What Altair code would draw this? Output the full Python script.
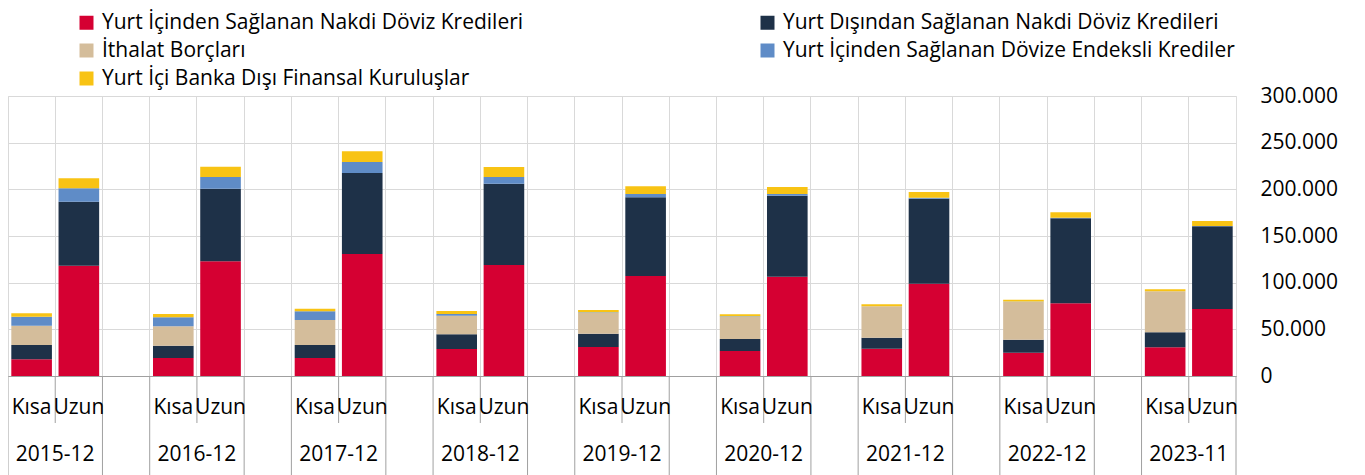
import altair as alt
import pandas as pd

periods = ["2015-12", "2016-12", "2017-12", "2018-12", "2019-12",
           "2020-12", "2021-12", "2022-12", "2023-11"]
terms = ["Kısa", "Uzun"]

series = [
    "Yurt İçinden Sağlanan Nakdi Döviz Kredileri",
    "Yurt Dışından Sağlanan Nakdi Döviz Kredileri",
    "İthalat Borçları",
    "Yurt İçinden Sağlanan Dövize Endeksli Krediler",
    "Yurt İçi Banka Dışı Finansal Kuruluşlar",
]
colors = ["#d50032", "#1e3148", "#d4bd9b", "#5f8cc7", "#f8c314"]
# legend is filled column by column: column 1 = red, tan, yellow; column 2 = navy, blue
legend_order = [0, 2, 4, 1, 3]

# values (thousands, per period)
ic_nakdi_kisa = [17.9, 19.3, 19.3, 28.9, 31.1, 26.8, 29.3, 25.0, 30.7]
ic_nakdi_uzun = [118.2, 122.9, 130.7, 118.9, 107.1, 106.4, 98.9, 77.9, 71.8]
dis_nakdi_kisa = [15.3, 13.2, 13.9, 15.7, 14.3, 12.8, 11.8, 13.9, 16.1]
dis_nakdi_uzun = [68.6, 77.8, 86.8, 87.2, 84.3, 86.8, 91.1, 91.1, 88.6]
ithalat_kisa = [20.7, 20.7, 26.8, 20.0, 22.5, 24.0, 33.5, 40.7, 43.9]
ithalat_uzun = [0, 0, 0, 0, 0, 0, 0, 0, 0]
endeksli_kisa = [9.7, 9.7, 9.3, 1.8, 0.5, 0.3, 0.2, 0.2, 0.2]
endeksli_uzun = [14.3, 12.5, 11.8, 7.1, 3.6, 1.8, 1.0, 0.5, 0.3]
bdfk_kisa = [3.5, 3.5, 2.8, 3.2, 2.3, 2.2, 2.0, 2.0, 2.0]
bdfk_uzun = [10.7, 11.1, 11.4, 10.7, 8.2, 7.5, 6.1, 5.9, 5.4]

y_ticks = [0, 50000, 100000, 150000, 200000, 250000, 300000]

values = {
    ("Kısa", 0): ic_nakdi_kisa, ("Uzun", 0): ic_nakdi_uzun,
    ("Kısa", 1): dis_nakdi_kisa, ("Uzun", 1): dis_nakdi_uzun,
    ("Kısa", 2): ithalat_kisa, ("Uzun", 2): ithalat_uzun,
    ("Kısa", 3): endeksli_kisa, ("Uzun", 3): endeksli_uzun,
    ("Kısa", 4): bdfk_kisa, ("Uzun", 4): bdfk_uzun,
}

# slot domain: Kısa, Uzun, gap for each period (no gap after the last)
slots = []
slot_kind = []
for i, p in enumerate(periods):
    slots += [f"{p} Kısa", f"{p} Uzun"]
    slot_kind += ["Kısa", "Uzun"]
    if i < len(periods) - 1:
        slots.append(f"{p} gap")
        slot_kind.append("")

rows = []
for i, p in enumerate(periods):
    for t in terms:
        for s_idx, s in enumerate(series):
            rows.append({"slot": f"{p} {t}", "series": s, "sidx": s_idx,
                         "value": values[(t, s_idx)][i] * 1000})
df = pd.DataFrame(rows)

terms_df = pd.DataFrame({"slot": slots, "term": slot_kind})
terms_df = terms_df[terms_df["term"] != ""]
years_df = pd.DataFrame({"slot": [f"{p} Uzun" for p in periods], "label": periods})
long_df = pd.DataFrame({"slot": [s for s, k in zip(slots, slot_kind) if k != "Uzun"]})
short_df = pd.DataFrame({"slot": [s for s, k in zip(slots, slot_kind) if k == "Uzun"]})
edge_df = pd.DataFrame({"slot": [slots[-1]]})

W, H = 1228, 280
FONT = "Open Sans"
LINE = "#a0a0a0"

x_scale = alt.Scale(domain=slots, paddingInner=0, paddingOuter=0)

bars = alt.Chart(df).mark_bar(width=alt.RelativeBandSize(0.86)).encode(
    x=alt.X("slot:N", scale=x_scale, title=None,
            axis=alt.Axis(bandPosition=0, grid=True, gridColor="#d9d9d9", gridWidth=1,
                          domainColor=LINE, ticks=False, labels=False)),
    y=alt.Y("value:Q", stack="zero", title=None,
            scale=alt.Scale(domain=[0, 300000], nice=False),
            axis=alt.Axis(orient="right", values=y_ticks, grid=True,
                          gridColor="#d9d9d9", domain=False, ticks=False,
                          labelExpr="replace(format(datum.value, ','), /,/g, '.')",
                          labelPadding=24, labelAlign="left",
                          labelFont=FONT, labelFontSize=21, labelColor="#000000")),
    color=alt.Color("series:N",
                    scale=alt.Scale(domain=[series[k] for k in legend_order],
                                    range=[colors[k] for k in legend_order]),
                    legend=alt.Legend(title=None, orient="none", legendX=68, legendY=-84,
                                      columns=2, columnPadding=233, rowPadding=6,
                                      symbolType="square", symbolSize=196,
                                      symbolStrokeWidth=0, labelOffset=5,
                                      labelFont=FONT, labelFontSize=21,
                                      labelColor="#000000", labelLimit=0)),
    order=alt.Order("sidx:Q", sort="ascending"),
)

term_text = alt.Chart(terms_df).mark_text(
    font=FONT, fontSize=21, color="#000000", baseline="middle", align="center"
).encode(
    x=alt.X("slot:N", scale=x_scale),
    y=alt.value(H + 32),
    text="term:N",
)

years = alt.Chart(years_df).mark_text(
    font=FONT, fontSize=21, color="#000000", baseline="middle", align="center"
).encode(
    x=alt.X("slot:N", scale=x_scale, bandPosition=0),
    y=alt.value(H + 79),
    text="label:N",
)

long_rules = alt.Chart(long_df).mark_rule(color=LINE, strokeWidth=1).encode(
    x=alt.X("slot:N", scale=x_scale, bandPosition=0),
    y=alt.value(H), y2=alt.value(H + 100),
)
short_rules = alt.Chart(short_df).mark_rule(color=LINE, strokeWidth=1).encode(
    x=alt.X("slot:N", scale=x_scale, bandPosition=0),
    y=alt.value(H), y2=alt.value(H + 47),
)
edge = alt.Chart(edge_df).mark_rule(color=LINE, strokeWidth=1).encode(
    x=alt.X("slot:N", scale=x_scale, bandPosition=1),
    y=alt.value(H), y2=alt.value(H + 100),
)

chart = alt.layer(bars, long_rules, short_rules, edge, term_text, years).properties(
    width=W, height=H,
    autosize=alt.AutoSizeParams(type="none"),
    padding={"left": 0, "top": 88, "right": 121, "bottom": 99},
).configure_view(stroke="#d9d9d9").configure(font=FONT)

chart.save("out.html", embed_options={"renderer": "svg", "actions": False})
